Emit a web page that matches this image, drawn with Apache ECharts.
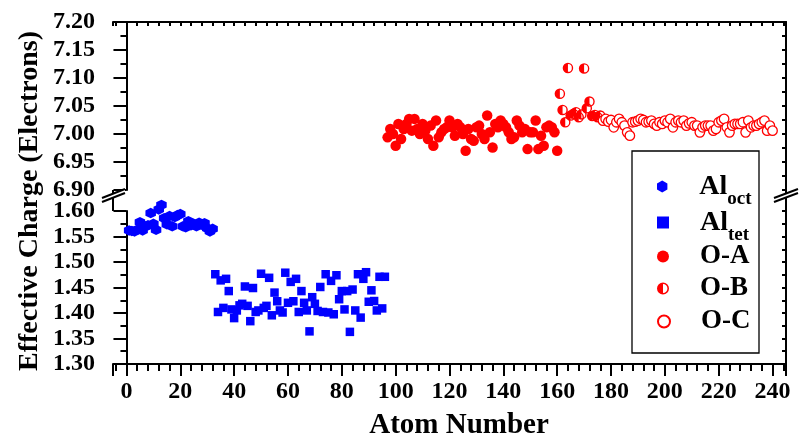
<!DOCTYPE html>
<html><head><meta charset="utf-8">
<script src="https://cdn.jsdelivr.net/npm/echarts@6/dist/echarts.min.js"></script>
<style>html,body{margin:0;padding:0;background:#fff}#c{width:799px;height:443px}</style>
</head><body><div id="c"></div>
<script>
// ---- data (atom number ranges and effective charges) ----
const alOctStart = 1;
const alOct = [1.562,1.561,1.560,1.563,1.578,1.562,1.570,1.572,1.596,1.575,1.563,1.603,1.612,1.586,1.574,1.590,
  1.570,1.588,1.592,1.594,1.570,1.568,1.580,1.572,1.575,1.570,1.577,1.573,1.576,1.566,1.560,1.565];
const alTetStart = 33;
const alTet = [1.476,1.402,1.464,1.410,1.467,1.443,1.407,1.390,1.405,1.415,1.418,1.452,1.414,1.384,1.449,1.402,
  1.405,1.477,1.410,1.414,1.469,1.3955,1.440,1.423,1.405,1.401,1.479,1.420,1.461,1.423,1.467,1.402,
  1.443,1.420,1.405,1.364,1.431,1.418,1.404,1.451,1.402,1.476,1.401,1.463,1.3975,1.474,1.427,1.443,
  1.407,1.443,1.363,1.446,1.405,1.476,1.391,1.467,1.480,1.422,1.4445,1.4235,1.405,1.471,1.409,1.471];
const oAStart = 97;
const oA = [6.994,7.009,7.000,6.979,7.018,6.991,7.009,7.018,7.027,7.006,7.027,7.009,7.000,7.018,7.006,6.991,
  7.015,6.979,7.024,6.994,7.003,7.009,7.012,7.024,7.012,6.997,7.018,7.012,7.000,6.970,7.009,6.991,
  6.988,7.012,7.015,7.000,6.991,7.033,7.003,6.976,7.018,7.012,7.024,7.018,7.012,7.003,6.991,6.994,
  7.024,7.015,7.003,7.009,6.973,7.003,7.003,7.024,6.973,6.997,6.979,7.012,7.015,7.012,7.003,6.970];
const oBStart = 161;
const oB = [7.072,7.043,7.021,7.118,7.033,7.036,7.039,7.030,7.035,7.117,7.046,7.058,7.032,7.034,7.030,7.033];
const oCStart = 177;
const oC = [7.024,7.027,7.022,7.025,7.012,7.021,7.027,7.021,7.015,7.003,6.997,7.021,7.022,7.024,7.027,7.025,
  7.021,7.022,7.024,7.018,7.015,7.021,7.018,7.024,7.021,7.027,7.012,7.021,7.024,7.021,7.024,7.015,
  7.019,7.021,7.015,7.015,7.003,7.012,7.015,7.015,7.015,7.006,7.009,7.021,7.024,7.027,7.012,7.003,
  7.015,7.018,7.018,7.018,7.021,7.003,7.024,7.012,7.015,7.015,7.018,7.021,7.024,7.006,7.015,7.006];

const xRange = [-5, 245];
const xTickStep = 20;
const yUpperRange = [6.90, 7.20];
const yLowerRange = [1.30, 1.60];
const yTickStep = 0.05;

const names = ['Al_oct', 'Al_tet', 'O-A', 'O-B', 'O-C'];
// ---- build ----
const toPts = (start, arr) => arr.map((v, i) => [start + i, v]);
const FONT = 'Liberation Serif';
const BLUE = '#0000ff', RED = '#ff0000';
const HEX = 'path://M5,0 L9.33,2.5 L9.33,7.5 L5,10 L0.67,7.5 L0.67,2.5 Z';
const HALF = 'path://M0,10 A10,10 0 1,1 20,10 A10,10 0 1,1 0,10 Z M2.6,10 A7.4,7.4 0 1,0 17.4,10 A7.4,7.4 0 1,0 2.6,10 Z M10,2.6 A7.4,7.4 0 0,0 10,17.4 Z';

const L = 113, R = 786, T = 22, UB = 190, LT = 211, B = 364;
const lab = {fontFamily: FONT, fontWeight: 'bold', fontSize: 24, color: '#000'};
const axLine = {show: true, lineStyle: {color: '#000', width: 2}};

function yLeft(gi, rng) {
  return {gridIndex: gi, type: 'value', position: 'left', min: rng[0], max: rng[1], interval: yTickStep,
    axisLine: axLine, axisTick: {show: true, inside: false, length: 13, lineStyle: {width: 2, color: '#000'}},
    minorTick: {show: true, splitNumber: 2, length: 6, lineStyle: {width: 2, color: '#000'}},
    splitLine: {show: false},
    axisLabel: Object.assign({margin: 18, formatter: v => v.toFixed(2)}, lab)};
}
function yRight(gi, rng) {
  return {gridIndex: gi, type: 'value', position: 'right', min: rng[0], max: rng[1], interval: yTickStep,
    axisLine: axLine, axisTick: {show: true, inside: true, length: 4, lineStyle: {width: 2, color: '#000'}},
    minorTick: {show: true, splitNumber: 2, length: 4, lineStyle: {width: 2, color: '#000'}},
    splitLine: {show: false}, axisLabel: {show: false}};
}
const xFmt = v => (Math.round(v) % xTickStep === 0 && v >= 0 && v <= 240) ? String(Math.round(v)) : '';

function legendFor(name, center, isAl) {
  const h = isAl ? 48 : 28;
  return {
    data: [name], orient: 'vertical', left: 657, top: center - h / 2, padding: 0,
    itemWidth: 12, itemHeight: 12, selectedMode: false,
    formatter: n => n === 'Al_oct' ? '{a|Al}{s|oct}' : (n === 'Al_tet' ? '{a|Al}{s|tet}' : '{b|' + n + '}'),
    textStyle: {padding: [0, 0, 0, 26], color: '#000',
      rich: {
        a: {fontFamily: FONT, fontWeight: 'bold', fontSize: 28, lineHeight: 28, padding: [10, 0, 10, 0], color: '#000'},
        s: {fontFamily: FONT, fontWeight: 'bold', fontSize: 19, lineHeight: 18, padding: [28, 0, 2, 0], color: '#000'},
        b: {fontFamily: FONT, fontWeight: 'bold', fontSize: 27, lineHeight: 28, color: '#000'}
      }}
  };
}
const emph = {disabled: true};

const option = {
  animation: false,
  backgroundColor: '#fff',
  grid: [
    {left: L, right: 799 - R, top: T, height: UB - T, show: false},
    {left: L, right: 799 - R, top: LT, height: B - LT, show: false}
  ],
  xAxis: [
    {gridIndex: 0, type: 'value', position: 'top', min: xRange[0], max: xRange[1], splitNumber: 12,
      axisLine: axLine, axisTick: {show: true, inside: true, length: 4, lineStyle: {width: 2, color: '#000'}},
      minorTick: {show: true, splitNumber: 5, length: 4, lineStyle: {width: 2, color: '#000'}},
      splitLine: {show: false}, axisLabel: {show: false}},
    {gridIndex: 1, type: 'value', position: 'bottom', min: xRange[0], max: xRange[1], splitNumber: 12,
      axisLine: axLine, axisTick: {show: true, inside: false, length: 12, lineStyle: {width: 2, color: '#000'}},
      minorTick: {show: true, splitNumber: 5, length: 7, lineStyle: {width: 2, color: '#000'}},
      splitLine: {show: false},
      axisLabel: Object.assign({margin: 16, formatter: xFmt, showMinLabel: true, showMaxLabel: true}, lab),
      name: 'Atom Number', nameLocation: 'middle', nameGap: 47,
      nameTextStyle: {fontFamily: FONT, fontWeight: 'bold', fontSize: 29, color: '#000', padding: [0, 0, 0, 19]}}
  ],
  yAxis: [yLeft(0, yUpperRange), yRight(0, yUpperRange), yLeft(1, yLowerRange), yRight(1, yLowerRange)],
  legend: [
    legendFor('Al_oct', 186, true),
    legendFor('Al_tet', 222, true),
    legendFor('O-A', 257, false),
    legendFor('O-B', 289, false),
    legendFor('O-C', 322, false)
  ],
  series: [
    {name: names[0], type: 'scatter', xAxisIndex: 1, yAxisIndex: 2, symbol: HEX, symbolSize: 10.5, clip: false,
      itemStyle: {color: BLUE, opacity: 1}, emphasis: emph, data: toPts(alOctStart, alOct)},
    {name: names[1], type: 'scatter', xAxisIndex: 1, yAxisIndex: 2, symbol: 'rect', symbolSize: 8.5, clip: false,
      itemStyle: {color: BLUE, opacity: 1}, emphasis: emph, data: toPts(alTetStart, alTet)},
    {name: names[2], type: 'scatter', xAxisIndex: 0, yAxisIndex: 0, symbol: 'circle', symbolSize: 10.5,
      itemStyle: {color: RED, opacity: 1}, emphasis: emph, data: toPts(oAStart, oA)},
    {name: names[3], type: 'scatter', xAxisIndex: 0, yAxisIndex: 0, symbol: HALF, symbolSize: 10.5,
      itemStyle: {color: RED, opacity: 1}, emphasis: emph, data: toPts(oBStart, oB)},
    {name: names[4], type: 'scatter', xAxisIndex: 0, yAxisIndex: 0, symbol: 'circle', symbolSize: 9.5,
      itemStyle: {color: '#fff', borderColor: RED, borderWidth: 1.3, opacity: 1}, emphasis: emph, data: toPts(oCStart, oC)}
  ],
  graphic: [
    {type: 'rect', shape: {x: 632, y: 151, width: 127, height: 202}, style: {fill: 'rgba(0,0,0,0)', stroke: '#000', lineWidth: 1.3}, z: 1},
    {type: 'line', shape: {x1: L, y1: UB, x2: L, y2: LT}, style: {stroke: '#000', lineWidth: 2}},
    {type: 'line', shape: {x1: R, y1: UB, x2: R, y2: LT}, style: {stroke: '#000', lineWidth: 2}},
    {type: 'polygon', shape: {points: [[102, 198], [125, 189], [125, 193], [102, 202]]}, style: {fill: '#fff'}, z: 10},
    {type: 'line', shape: {x1: 102, y1: 198, x2: 125, y2: 189}, style: {stroke: '#000', lineWidth: 2}, z: 11},
    {type: 'line', shape: {x1: 102, y1: 202, x2: 125, y2: 193}, style: {stroke: '#000', lineWidth: 2}, z: 11},
    {type: 'polygon', shape: {points: [[774, 198], [798, 189], [798, 193], [774, 202]]}, style: {fill: '#fff'}, z: 10},
    {type: 'line', shape: {x1: 774, y1: 198, x2: 798, y2: 189}, style: {stroke: '#000', lineWidth: 2}, z: 11},
    {type: 'line', shape: {x1: 774, y1: 202, x2: 798, y2: 193}, style: {stroke: '#000', lineWidth: 2}, z: 11},
    {type: 'text', x: 30, y: 201, rotation: Math.PI / 2,
      style: {text: 'Effective Charge (Electrons)', fontFamily: FONT, fontWeight: 'bold', fontSize: 28,
        fill: '#000', align: 'center', verticalAlign: 'middle'}}
  ]
};
echarts.init(document.getElementById('c'), null, {renderer: 'canvas'}).setOption(option);
</script></body></html>
